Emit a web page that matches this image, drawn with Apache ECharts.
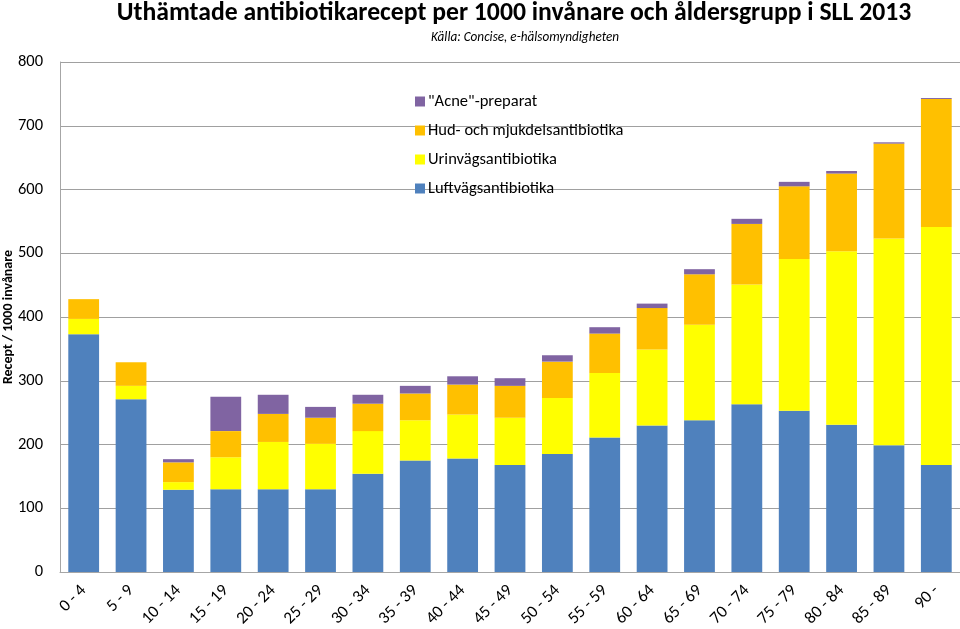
<!DOCTYPE html>
<html>
<head>
<meta charset="utf-8">
<script src="https://cdn.jsdelivr.net/npm/echarts@6/dist/echarts.min.js"></script>
<style>html,body{margin:0;padding:0;background:#fff}#c{width:960px;height:629px}</style>
</head>
<body>
<div id="c"></div>
<script>
const categories = ["0 - 4","5 - 9","10 - 14","15 - 19","20 - 24","25 - 29","30 - 34","35 - 39","40 - 44","45 - 49","50 - 54","55 - 59","60 - 64","65 - 69","70 - 74","75 - 79","80 - 84","85 - 89","90 -"];
const luftvag = [373,271,129,130,130,130,154,175,178,168,185,211,230,238,263,253,231,199,168];
const urinvag = [24,21,12,50,74,71,67,63,69,74,88,101,119,150,188,238,272,324,373];
const hud = [31,37,31,41,44,41,43,42,47,50,57,62,65,79,95,114,122,149,201];
const acne = [0,0,5,54,30,17,14,12,13,12,10,10,7,8,8,7,4,2,1.5];
const yTicks = [0,100,200,300,400,500,600,700,800];

const font = 'Carlito, Lato, "Open Sans", sans-serif';
const chart = echarts.init(document.getElementById('c'));
const mk = (name, data, color) => ({
  name, type: 'bar', stack: 'a', data, barCategoryGap: '35%',
  itemStyle: { color }, emphasis: { disabled: true }
});
chart.setOption({
  animation: false,
  title: [{
    text: 'Uthämtade antibiotikarecept per 1000 invånare och åldersgrupp i SLL 2013',
    left: 509, top: -4, textAlign: 'center',
    textStyle: { fontFamily: font, fontWeight: 'bold', fontSize: 25.7, color: '#000' }
  }, {
    text: 'Källa: Concise, e-hälsomyndigheten',
    left: 520, top: 26, textAlign: 'center',
    textStyle: { fontFamily: font, fontStyle: 'italic', fontWeight: 'normal', fontSize: 13.2, color: '#000' }
  }],
  legend: {
    orient: 'vertical', left: 410, top: 88, itemGap: 12,
    itemWidth: 10, itemHeight: 10, icon: 'rect',
    data: ['"Acne"-preparat', 'Hud- och mjukdelsantibiotika', 'Urinvägsantibiotika', 'Luftvägsantibiotika'],
    textStyle: { fontFamily: font, fontSize: 16.5, color: '#000', padding: [0,0,0,-2] }
  },
  grid: { left: 60, right: 0, top: 62, bottom: 57, outerBoundsMode: 'none', containLabel: false },
  xAxis: {
    type: 'category', data: categories,
    axisLine: { lineStyle: { color: '#a6a6a6' } },
    axisTick: { show: false },
    axisLabel: { rotate: 45, fontFamily: font, fontSize: 17, color: '#000', margin: 16, interval: 0 }
  },
  yAxis: {
    type: 'value', min: 0, max: 800, interval: 100,
    name: 'Recept / 1000 invånare', nameLocation: 'middle', nameGap: 45, nameMoveOverlap: false,
    nameTextStyle: { fontFamily: font, fontWeight: 'bold', fontSize: 14, color: '#000' },
    axisLine: { show: true, lineStyle: { color: '#a6a6a6' } },
    axisTick: { show: false },
    axisLabel: { fontFamily: font, fontSize: 16.5, color: '#000', margin: 17 },
    splitLine: { lineStyle: { color: '#a0a0a0' } }
  },
  series: [
    mk('Luftvägsantibiotika', luftvag, '#4F81BD'),
    mk('Urinvägsantibiotika', urinvag, '#FFFF00'),
    mk('Hud- och mjukdelsantibiotika', hud, '#FFC000'),
    mk('"Acne"-preparat', acne, '#8064A2')
  ]
});
</script>
</body>
</html>
